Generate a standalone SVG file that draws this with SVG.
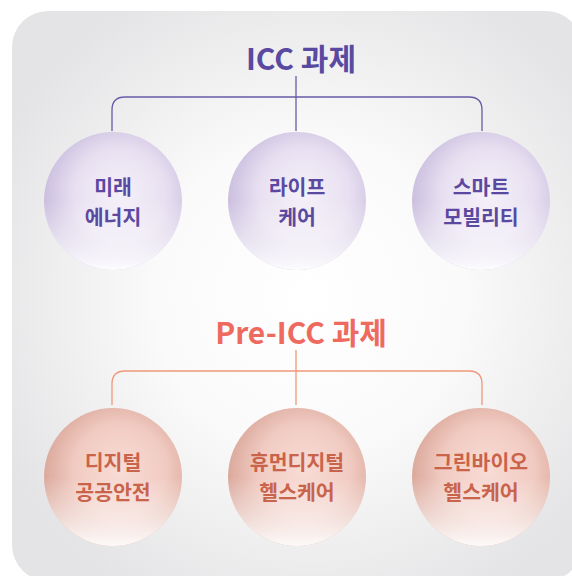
<svg xmlns="http://www.w3.org/2000/svg" width="572" height="576" viewBox="0 0 572 576">
<style>
.title{font-family:"Noto Sans CJK KR","Noto Sans",sans-serif;font-weight:700;text-anchor:middle}
.lbl{font-family:"Noto Sans CJK KR",sans-serif;font-weight:700;font-size:20.5px;text-anchor:middle}
.p{fill:#5a49a0}
.r{fill:#c9634a}
.lnp{fill:none;stroke:#6a5aa8;stroke-width:1.3}
.lnr{fill:none;stroke:#f0987a;stroke-width:1.3}
</style>
<defs>
<radialGradient id="bg" cx="0.52" cy="0.5" r="0.6">
<stop offset="0" stop-color="#ffffff"/>
<stop offset="0.45" stop-color="#fafafa"/>
<stop offset="1" stop-color="#e4e4e6"/>
</radialGradient>
<radialGradient id="gp" cx="0.55" cy="0.45" r="0.55">
<stop offset="0" stop-color="#f5f1f9"/>
<stop offset="0.6" stop-color="#e8e0f1"/>
<stop offset="1" stop-color="#cbbfdf"/>
</radialGradient>
<radialGradient id="gr" cx="0.55" cy="0.45" r="0.55">
<stop offset="0" stop-color="#f8dcd6"/>
<stop offset="0.6" stop-color="#f1cbc2"/>
<stop offset="1" stop-color="#dba99c"/>
</radialGradient>
<linearGradient id="fade" x1="0" y1="0" x2="0" y2="1">
<stop offset="0.5" stop-color="#ffffff" stop-opacity="0"/>
<stop offset="1" stop-color="#ffffff" stop-opacity="0.95"/>
</linearGradient>
</defs>
<rect x="12" y="11" width="570" height="570" rx="36" fill="url(#bg)"/>
<text class="title p" x="301" y="70" font-size="30">ICC 과제</text>
<text class="title" x="301" y="344" font-size="30" fill="#ee6a5e">Pre-ICC 과제</text>
<g id="connectors">
<path class="lnp" d="M296 76 V131 M112 131 V110 Q112 97 125 97 H469 Q482 97 482 110 V131"/>
<path class="lnr" d="M296 350 V405 M112 405 V384 Q112 371 125 371 H469 Q482 371 482 384 V405"/>
</g>
<g id="n1"><circle cx="113" cy="201" r="69" fill="url(#gp)"/><circle cx="113" cy="201" r="69" fill="url(#fade)"/>
<text class="lbl p" x="113" y="195">미래</text><text class="lbl p" x="113" y="225">에너지</text></g>
<g id="n2"><circle cx="297" cy="201" r="69" fill="url(#gp)"/><circle cx="297" cy="201" r="69" fill="url(#fade)"/>
<text class="lbl p" x="297" y="195">라이프</text><text class="lbl p" x="297" y="225">케어</text></g>
<g id="n3"><circle cx="481" cy="201" r="69" fill="url(#gp)"/><circle cx="481" cy="201" r="69" fill="url(#fade)"/>
<text class="lbl p" x="481" y="195">스마트</text><text class="lbl p" x="481" y="225">모빌리티</text></g>
<g id="n4"><circle cx="113" cy="477" r="69" fill="url(#gr)"/><circle cx="113" cy="477" r="69" fill="url(#fade)"/>
<text class="lbl r" x="113" y="470">디지털</text><text class="lbl r" x="113" y="500">공공안전</text></g>
<g id="n5"><circle cx="297" cy="477" r="69" fill="url(#gr)"/><circle cx="297" cy="477" r="69" fill="url(#fade)"/>
<text class="lbl r" x="297" y="470">휴먼디지털</text><text class="lbl r" x="297" y="500">헬스케어</text></g>
<g id="n6"><circle cx="481" cy="477" r="69" fill="url(#gr)"/><circle cx="481" cy="477" r="69" fill="url(#fade)"/>
<text class="lbl r" x="481" y="470">그린바이오</text><text class="lbl r" x="481" y="500">헬스케어</text></g>
</svg>
